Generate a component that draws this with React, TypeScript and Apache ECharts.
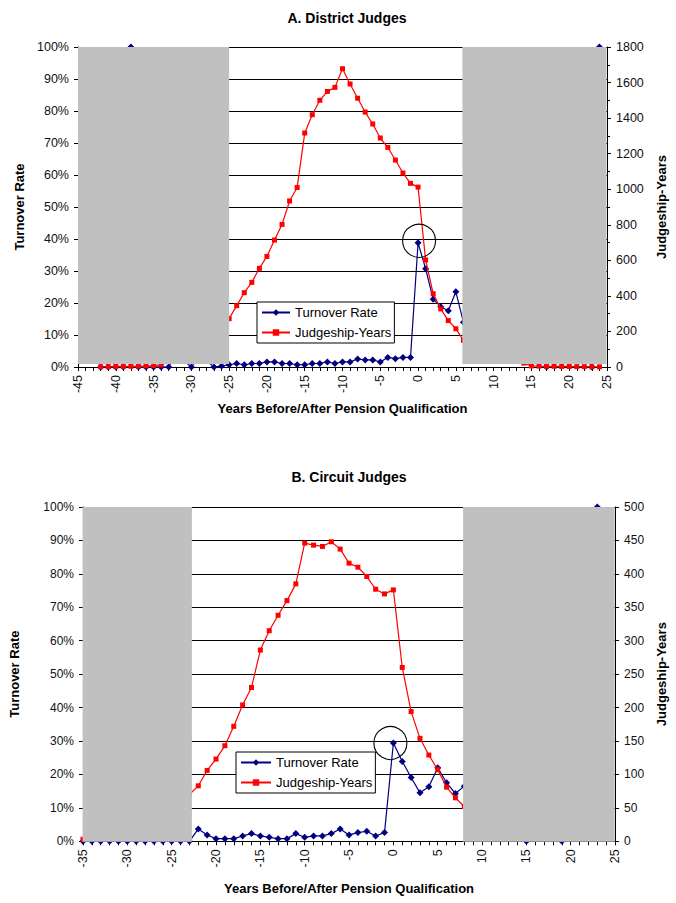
import React, { useEffect, useRef } from "react";
import * as echarts from "echarts";

// ---------- Panel A: District Judges ----------
const yearsA = [
  -42, -41, -40, -39, -38, -37, -36,
  -35, -34, -33, -32, -31, -30, -29, -28, -27, -26,
  -25, -24, -23, -22, -21, -20, -19, -18, -17, -16,
  -15, -14, -13, -12, -11, -10, -9, -8, -7, -6,
  -5, -4, -3, -2, -1, 0, 1, 2, 3, 4,
  5, 6, 7, 8, 9, 10, 11, 12, 13, 14,
  15, 16, 17, 18, 19, 20, 21, 22, 23, 24,
];
const turnoverA = [
  0, 0, 0, 0, 100, 0, 0,
  0, 0, 0, 4, 2, 0, 3, 2, 0, 0.3,
  0.7, 1.1, 0.7, 1.1, 1.1, 1.6, 1.6, 1.1, 1.1, 0.7,
  0.7, 1.1, 1.1, 1.6, 1.1, 1.6, 1.6, 2.5, 2.2, 2.2,
  1.6, 3.0, 2.6, 3.0, 3.0, 38.8, 30.7, 21.2, 18.8, 17.6,
  23.5, 14, 16, 12, 15, 10, 13, 8, 12, 6,
  10, 5, 0, 8, 4, 6, 3, 5, 0, 100,
];
const judgeA = [
  1, 2, 3, 3, 4, 5, 6,
  8, 12, 30, 45, 60, 80, 105, 135, 170, 215,
  272, 345, 418, 476, 555, 622, 714, 802, 934, 1010,
  1316, 1419, 1500, 1550, 1573, 1678, 1592, 1512, 1434, 1367,
  1288, 1235, 1164, 1091, 1033, 1012, 602, 412, 327, 261,
  215, 150, 125, 105, 90, 75, 62, 50, 40, 22,
  6, 5, 4, 4, 3, 3, 2, 2, 1, 1,
];
// grey masking boxes: [xFrom, xTo, yFrom(%), yTo(%)]
const greyA = [
  [-45, -25, 0.9, 100],
  [5.86, 24.93, 0.9, 100],
];

// ---------- Panel B: Circuit Judges ----------
const yearsB = [
  -35, -34, -33, -32, -31, -30, -29, -28, -27, -26,
  -25, -24, -23, -22, -21, -20, -19, -18, -17, -16,
  -15, -14, -13, -12, -11, -10, -9, -8, -7, -6,
  -5, -4, -3, -2, -1, 0, 1, 2, 3, 4,
  5, 6, 7, 8, 9, 10, 11, 12, 13, 14,
  15, 16, 17, 18, 19, 20, 21, 22, 23,
];
const turnoverB = [
  0, 0, 0, 0, 0, 0, 0, 0, 0, 0,
  0, 0, 0, 3.7, 1.9, 0.8, 0.8, 0.8, 1.6, 2.3,
  1.6, 1.2, 0.8, 0.8, 2.3, 1.2, 1.6, 1.6, 2.3, 3.7,
  1.9, 2.6, 3.0, 1.6, 2.6, 29.4, 23.9, 19.1, 14.5, 16.3,
  22.0, 17.5, 14.3, 16.5, 12, 18, 10, 15, 8, 12,
  0, 10, 6, 12, 0, 8, 5, 10, 100,
];
const judgeB = [
  3, 4, 5, 6, 8, 10, 13, 17, 24, 32,
  42, 55, 70, 83, 106, 123, 143, 172, 204, 230,
  286, 315, 338, 360, 385, 446, 443, 441, 448, 437,
  416, 410, 396, 377, 370, 376, 260, 194, 154, 129,
  107, 81, 65, 52, 42, 35, 28, 22, 18, 15,
  12, 10, 9, 8, 7, 6, 6, 5, 5,
];
const greyB = [
  [-35.05, -22.72, -0.15, 100],
  [7.86, 24.95, -0.15, 100],
];

const circledYear = 0;

const FONT = '"Liberation Sans", Arial, Helvetica, sans-serif';
const NAVY = "#000080";
const RED = "#FF0000";
const GREY = "#C0C0C0";

function pairs(xs: number[], ys: number[]) {
  return xs.map((x, i) => [x, ys[i]]);
}

function xAxisCfg(gridIndex: number, min: number, nameGap: number, fs: number) {
  return {
    type: "value",
    gridIndex,
    min,
    max: 25,
    interval: 5,
    axisLine: { show: true, onZero: false, lineStyle: { color: "#000", width: 1 } },
    axisTick: { show: true, length: 4, lineStyle: { color: "#000" } },
    minorTick: { show: true, splitNumber: 5, length: 4, lineStyle: { color: "#000" } },
    axisLabel: { rotate: 90, fontSize: fs, color: "#111", margin: 8, fontFamily: FONT },
    splitLine: { show: false },
    name: "Years Before/After Pension Qualification",
    nameLocation: "middle",
    nameGap,
    nameTextStyle: { fontSize: 13, fontWeight: "bold", color: "#000", fontFamily: FONT },
  };
}

function leftAxisCfg(gridIndex: number, nameGap: number, fs: number) {
  return {
    type: "value",
    gridIndex,
    position: "left",
    min: 0,
    max: 100,
    interval: 10,
    axisLine: { show: true, onZero: false, lineStyle: { color: "#000" } },
    axisTick: { show: true, length: 4, lineStyle: { color: "#000" } },
    axisLabel: { formatter: "{value}%", fontSize: fs, color: "#111", margin: 9, fontFamily: FONT },
    splitLine: { show: true, lineStyle: { color: "#000", width: 1 } },
    name: "Turnover Rate",
    nameLocation: "middle",
    nameRotate: 90,
    nameGap,
    nameTextStyle: { fontSize: 13, fontWeight: "bold", color: "#000", fontFamily: FONT },
  };
}

function rightAxisCfg(gridIndex: number, max: number, interval: number, minor: boolean, nameGap: number, fs: number) {
  return {
    type: "value",
    gridIndex,
    position: "right",
    min: 0,
    max,
    interval,
    axisLine: { show: true, onZero: false, lineStyle: { color: "#000" } },
    axisTick: { show: true, length: 4, lineStyle: { color: "#000" } },
    minorTick: { show: minor, splitNumber: 2, length: 3, lineStyle: { color: "#000" } },
    axisLabel: {
      fontSize: fs,
      color: "#111",
      margin: 9,
      fontFamily: FONT,
      formatter: (v: number) => String(v),
    },
    splitLine: { show: false },
    name: "Judgeship-Years",
    nameLocation: "middle",
    nameRotate: 90,
    nameGap,
    nameTextStyle: { fontSize: 13, fontWeight: "bold", color: "#000", fontFamily: FONT },
  };
}

function legendCfg(left: number, top: number, iw: number) {
  return {
    data: ["Turnover Rate", "Judgeship-Years"],
    orient: "vertical",
    left,
    top,
    padding: [4, 3, 4, 4],
    itemGap: 7,
    itemWidth: iw,
    itemHeight: 8,
    backgroundColor: "#fff",
    borderColor: "#000",
    borderWidth: 1,
    borderRadius: 0,
    selectedMode: false,
    textStyle: { fontSize: 13, color: "#000", fontFamily: FONT },
  };
}

function greySeries(xi: number, yi: number, data: number[][]) {
  return {
    type: "custom",
    xAxisIndex: xi,
    yAxisIndex: yi,
    z: 10,
    silent: true,
    clip: false,
    data,
    encode: { x: [0, 1], y: [2, 3] },
    renderItem: (_p: any, api: any) => {
      const a = api.coord([api.value(0), api.value(3)]);
      const b = api.coord([api.value(1), api.value(2)]);
      return {
        type: "rect",
        shape: { x: a[0], y: a[1], width: b[0] - a[0], height: b[1] - a[1] },
        style: { fill: GREY },
      };
    },
  };
}

function turnoverSeries(xi: number, yi: number, xs: number[], ys: number[], offset: number[]) {
  const idx = xs.indexOf(circledYear);
  return {
    name: "Turnover Rate",
    type: "line",
    xAxisIndex: xi,
    yAxisIndex: yi,
    data: pairs(xs, ys),
    symbol: "diamond",
    symbolSize: 7,
    showAllSymbol: true,
    z: 3,
    itemStyle: { color: NAVY },
    lineStyle: { color: NAVY, width: 1.2 },
    markPoint: {
      symbol: "circle",
      symbolSize: 33,
      symbolOffset: offset,
      silent: true,
      label: { show: false },
      itemStyle: { color: "rgba(0,0,0,0)", borderColor: "#000", borderWidth: 1.1 },
      data: [{ coord: [circledYear, ys[idx]] }],
    },
  };
}

function judgeSeries(xi: number, yi: number, xs: number[], ys: number[]) {
  return {
    name: "Judgeship-Years",
    type: "line",
    xAxisIndex: xi,
    yAxisIndex: yi,
    data: pairs(xs, ys),
    symbol: "rect",
    symbolSize: 5,
    showAllSymbol: true,
    z: 4,
    itemStyle: { color: RED },
    lineStyle: { color: RED, width: 1.2 },
  };
}

export default function App() {
  const ref = useRef<HTMLDivElement>(null);
  useEffect(() => {
    document.body.style.margin = "0";
    if (!ref.current) return;
    const chart = echarts.init(ref.current, undefined, { renderer: "svg" });
    const option: any = {
      animation: false,
      backgroundColor: "#fff",
      textStyle: { fontFamily: FONT },
      title: [
        {
          text: "A. District Judges",
          left: 342,
          top: 6,
          textAlign: "center",
          textStyle: { fontSize: 14, fontWeight: "bold", color: "#000", fontFamily: FONT },
        },
        {
          text: "B. Circuit Judges",
          left: 344,
          top: 465,
          textAlign: "center",
          textStyle: { fontSize: 14, fontWeight: "bold", color: "#000", fontFamily: FONT },
        },
      ],
      grid: [
        { left: 78, top: 47, width: 529, height: 320, containLabel: false },
        { left: 82.7, top: 507, width: 542.3, height: 334.3, containLabel: false },
      ],
      xAxis: [xAxisCfg(0, -45, 35, 12.5), xAxisCfg(1, -35, 41, 12.5)],
      yAxis: [
        leftAxisCfg(0, 51, 12.5),
        rightAxisCfg(0, 1800, 200, true, 47, 12.5),
        leftAxisCfg(1, 62, 12),
        rightAxisCfg(1, 500, 50, false, 30, 12),
      ],
      legend: [legendCfg(257, 302, 28), legendCfg(236, 752, 30)],
      series: [
        turnoverSeries(0, 0, yearsA, turnoverA, [1, -2]),
        judgeSeries(0, 1, yearsA, judgeA),
        greySeries(0, 0, greyA),
        turnoverSeries(1, 2, yearsB, turnoverB, [-3, 0]),
        judgeSeries(1, 3, yearsB, judgeB),
        greySeries(1, 2, greyB),
      ],
    };
    chart.setOption(option);
    return () => chart.dispose();
  }, []);
  return <div ref={ref} style={{ width: 676, height: 903 }} />;
}
